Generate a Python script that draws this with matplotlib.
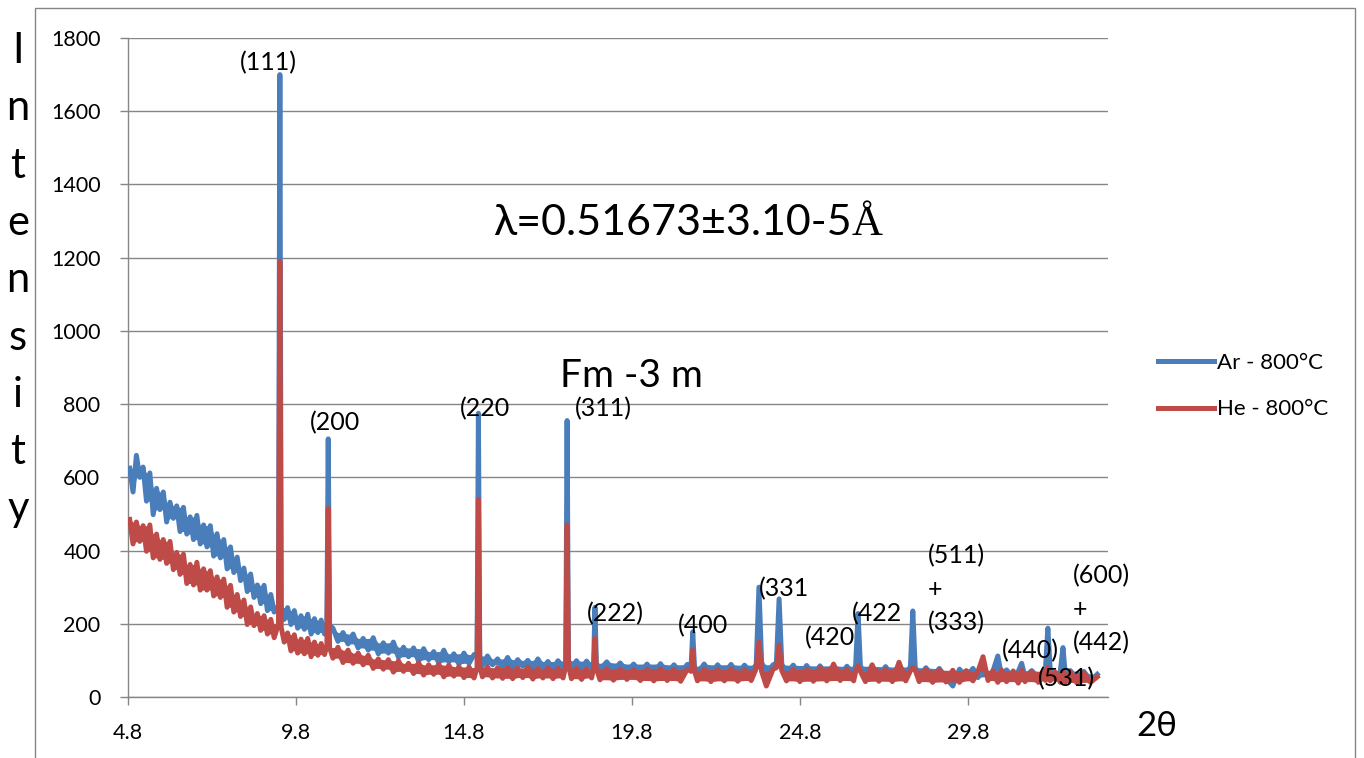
import matplotlib
matplotlib.use("Agg")
import numpy as np
import matplotlib.pyplot as plt
from matplotlib.patches import Rectangle

plt.rcParams['font.family'] = ['Lato', 'DejaVu Sans']

# 2theta grid (deg) shared by both scans
two_theta = [
    4.85, 4.95, 5.05, 5.15, 5.25, 5.35, 5.45, 5.55, 5.65, 5.75,
    5.85, 5.95, 6.05, 6.15, 6.25, 6.35, 6.45, 6.55, 6.65, 6.75,
    6.85, 6.95, 7.05, 7.15, 7.25, 7.35, 7.45, 7.55, 7.65, 7.75,
    7.85, 7.95, 8.05, 8.15, 8.25, 8.35, 8.45, 8.55, 8.65, 8.75,
    8.85, 8.95, 9.05, 9.15, 9.28, 9.32, 9.36, 9.45, 9.55, 9.65,
    9.75, 9.85, 9.95, 10.05, 10.15, 10.25, 10.35, 10.45, 10.55, 10.65,
    10.72, 10.76, 10.80, 10.9, 11.05, 11.2, 11.35, 11.5, 11.65, 11.8,
    11.95, 12.1, 12.25, 12.4, 12.55, 12.7, 12.85, 13.0, 13.15, 13.3,
    13.45, 13.6, 13.75, 13.9, 14.05, 14.2, 14.35, 14.5, 14.65, 14.8,
    14.95, 15.1, 15.19, 15.23, 15.27, 15.35, 15.5, 15.65, 15.8, 15.95,
    16.1, 16.25, 16.4, 16.55, 16.7, 16.85, 17.0, 17.15, 17.3, 17.45,
    17.6, 17.75, 17.83, 17.87, 17.91, 18.0, 18.15, 18.3, 18.45, 18.6,
    18.66, 18.70, 18.74, 18.85, 19.05, 19.25, 19.45, 19.65, 19.85, 20.05,
    20.25, 20.45, 20.65, 20.85, 21.05, 21.25, 21.45, 21.56, 21.61, 21.66,
    21.75, 21.95, 22.15, 22.35, 22.55, 22.75, 22.95, 23.15, 23.35, 23.50,
    23.58, 23.66, 23.8, 24.0, 24.10, 24.18, 24.26, 24.4, 24.6, 24.8,
    25.0, 25.2, 25.4, 25.6, 25.8, 26.0, 26.2, 26.4, 26.46, 26.53,
    26.60, 26.75, 26.95, 27.15, 27.35, 27.55, 27.75, 27.95, 28.09, 28.16,
    28.23, 28.35, 28.55, 28.75, 28.95, 29.15, 29.35, 29.55, 29.75, 29.95,
    30.1, 30.25, 30.4, 30.55, 30.69, 30.8, 30.95, 31.15, 31.3, 31.4,
    31.5, 31.7, 31.9, 32.05, 32.11, 32.18, 32.25, 32.4, 32.55, 32.63,
    32.7, 32.85, 33.05, 33.25, 33.45, 33.65,
]

ar_800 = [
    625, 560, 660, 600, 628, 535, 612, 498, 570, 512,
    560, 478, 532, 488, 522, 452, 518, 445, 492, 430,
    496, 418, 470, 410, 468, 385, 446, 380, 430, 350,
    410, 340, 382, 318, 352, 288, 336, 272, 306, 255,
    305, 236, 280, 232, 250, 1700, 245, 212, 244, 198,
    236, 188, 222, 185, 226, 172, 214, 176, 210, 172,
    200, 705, 195, 188, 152, 176, 145, 172, 134, 160,
    128, 162, 118, 148, 120, 150, 108, 136, 110, 134,
    98, 132, 102, 124, 93, 128, 96, 118, 90, 120,
    92, 116, 110, 775, 112, 86, 112, 88, 104, 82,
    108, 80, 102, 84, 100, 78, 104, 80, 97, 76,
    99, 80, 98, 755, 100, 78, 99, 76, 98, 80,
    95, 245, 92, 74, 96, 71, 93, 70, 90, 67,
    90, 64, 91, 63, 88, 65, 89, 82, 178, 84,
    64, 90, 62, 88, 63, 89, 61, 87, 65, 90,
    300, 95, 62, 88, 92, 268, 90, 63, 87, 60,
    86, 60, 85, 58, 86, 60, 84, 62, 88, 228,
    85, 58, 84, 57, 83, 56, 82, 58, 84, 235,
    82, 55, 80, 56, 78, 52, 30, 76, 54, 78,
    53, 78, 55, 72, 112, 58, 74, 52, 70, 92,
    55, 72, 50, 70, 80, 188, 75, 52, 70, 135,
    60, 72, 48, 70, 45, 62,
]

he_800 = [
    485, 418, 478, 425, 468, 398, 470, 380, 445, 376,
    430, 365, 425, 348, 395, 335, 390, 310, 362, 306,
    368, 292, 350, 292, 345, 276, 328, 272, 322, 245,
    305, 232, 280, 220, 265, 198, 246, 195, 228, 182,
    222, 172, 212, 162, 200, 1190, 190, 150, 175, 126,
    170, 120, 158, 118, 160, 110, 150, 114, 146, 116,
    140, 515, 135, 106, 136, 94, 128, 92, 120, 88,
    114, 78, 104, 76, 102, 68, 99, 70, 92, 64,
    94, 60, 88, 62, 90, 55, 87, 57, 83, 53,
    82, 52, 80, 540, 84, 55, 82, 52, 80, 51,
    81, 50, 79, 53, 82, 49, 78, 52, 80, 50,
    78, 52, 85, 470, 86, 50, 79, 48, 77, 52,
    80, 160, 78, 47, 77, 46, 76, 48, 75, 45,
    76, 44, 77, 45, 75, 43, 76, 70, 128, 72,
    44, 76, 42, 75, 44, 77, 43, 74, 45, 78,
    150, 70, 30, 76, 80, 142, 72, 44, 76, 42,
    75, 43, 80, 44, 90, 45, 76, 44, 70, 85,
    70, 42, 88, 43, 76, 42, 95, 44, 72, 80,
    74, 42, 75, 40, 74, 41, 73, 40, 72, 44,
    70, 110, 45, 72, 40, 74, 42, 71, 38, 73,
    42, 70, 40, 72, 45, 80, 44, 68, 40, 70,
    40, 68, 38, 66, 40, 55,
]

series_names = ['Ar - 800°C', 'He - 800°C']
x_ticks = [4.8, 9.8, 14.8, 19.8, 24.8, 29.8]
x_tick_labels = ['4.8', '9.8', '14.8', '19.8', '24.8', '29.8']
y_ticks = [0, 200, 400, 600, 800, 1000, 1200, 1400, 1600, 1800]

# peak labels: text, anchor 2theta, anchor intensity (baseline)
hkl_labels = [
    ('(111)', 8.13, 1711), ('(200', 10.22, 729), ('(220', 14.68, 766),
    ('(311)', 18.10, 766), ('(222)', 18.46, 206), ('(400', 21.17, 174),
    ('(331', 23.58, 274), ('(420', 24.95, 142), ('(422', 26.35, 206),
    ('(511)', 28.61, 365), ('+', 28.61, 274), ('(333)', 28.61, 183),
    ('(440)', 30.81, 106), ('(531)', 31.88, 28),
    ('(600)', 32.93, 310), ('+', 32.93, 219), ('(442)', 32.93, 128),
]

W, H = 1364, 758
AR_BLUE = '#4A7EBB'
HE_RED = '#BE4B48'
GRID = '#868686'


def noise_band(y):
    # close the gaps between neighbouring up/down points so the noisy trace reads as a band
    y = np.asarray(y, dtype=float)
    prev = np.r_[y[0], y[:-1]]
    nxt = np.r_[y[1:], y[-1]]
    upper = np.maximum(y, np.minimum(prev, nxt))
    lower = np.minimum(y, np.maximum(prev, nxt))
    return lower, upper


fig = plt.figure(figsize=(W / 100, H / 100), dpi=100)
ax = fig.add_axes([128 / W, 1 - 697 / H, (1108 - 128) / W, (697 - 38) / H])

lo, hi = noise_band(ar_800)
ax.fill_between(two_theta, lo, hi, color=AR_BLUE, lw=0, zorder=3)
l1, = ax.plot(two_theta, ar_800, color=AR_BLUE, lw=3.6, label=series_names[0], zorder=3)
lo, hi = noise_band(he_800)
ax.fill_between(two_theta, lo, hi, color=HE_RED, lw=0, zorder=4)
l2, = ax.plot(two_theta, he_800, color=HE_RED, lw=3.6, label=series_names[1], zorder=4)

ax.set_xlim(4.8, 33.97)
ax.set_ylim(0, 1800)
ax.set_xticks(x_ticks)
ax.set_xticklabels(x_tick_labels)
ax.set_yticks(y_ticks)
ax.yaxis.grid(True, color=GRID, lw=1.0)
ax.set_axisbelow(True)
for s in ['top', 'right']:
    ax.spines[s].set_visible(False)
for s in ['left', 'bottom']:
    ax.spines[s].set_color(GRID)
    ax.spines[s].set_linewidth(1.0)
ax.tick_params(axis='both', direction='out', length=5.8, width=1.0, color=GRID,
               labelsize=15.5, labelcolor='black')
ax.tick_params(axis='y', pad=14)
ax.tick_params(axis='x', pad=13)

for txt, xx, yy in hkl_labels:
    ax.text(xx, yy, txt, fontsize=18, ha='left', va='baseline', zorder=6)

ax.text(26.35, 1262, 'λ=0.51673±3.10-5', fontsize=31, ha='right', va='baseline')
ax.text(26.35, 1262, 'Å', fontsize=31, ha='left', va='baseline', family='Liberation Serif')
ax.text(17.66, 848, 'Fm -3 m', fontsize=28, ha='left', va='baseline')

# stacked y label, one letter per line
for i, ch in enumerate('Intensity'):
    fig.text(18 / W, 1 - (63 + 57.3 * i) / H, ch, fontsize=30, ha='center', va='baseline')
fig.text(1157 / W, 1 - 726 / H, '2θ', fontsize=25, ha='center', va='center')

fig.legend(handles=[l1, l2], loc='center left', bbox_to_anchor=(1158 / W, 1 - 386 / H),
           frameon=False, fontsize=16, handlelength=2.5, handletextpad=0.15,
           labelspacing=1.2, borderpad=0, borderaxespad=0)

# chart area border
fig.add_artist(Rectangle((35 / W, -0.05), (1355 - 35) / W, 1.05 - 8 / H,
                         transform=fig.transFigure, fill=False, edgecolor=GRID, lw=1.0))

fig.savefig('out.png', dpi=100)
